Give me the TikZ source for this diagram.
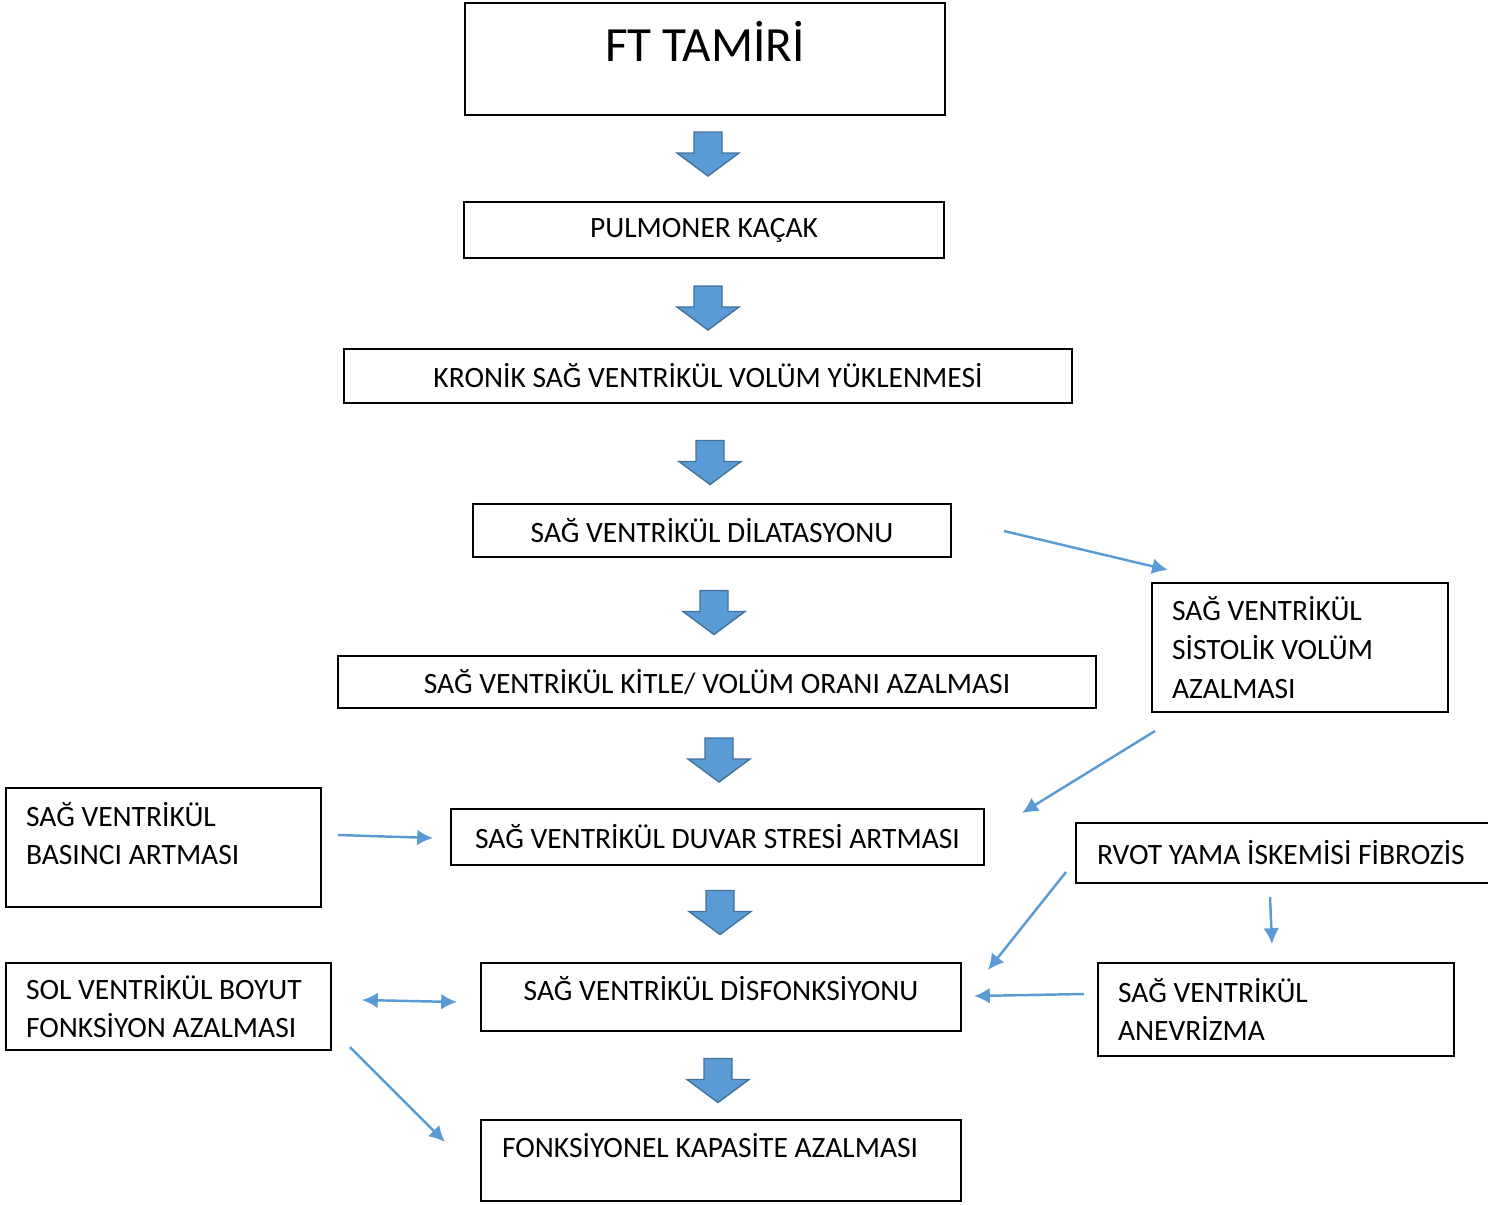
\documentclass[tikz,border=0pt]{standalone}
\usepackage{fontspec}
\setmainfont{Carlito}
\usetikzlibrary{arrows.meta}
\definecolor{arrowblue}{HTML}{5B9BD5}
\definecolor{arrowedge}{HTML}{41719C}
\tikzset{
  box/.style={draw=black, line width=1pt, inner sep=0pt, font=\fontsize{16.8pt}{22pt}\selectfont},
  leftbox/.style={box, align=flush left, inner xsep=0.4cm},
  link/.style={draw=arrowblue, line width=1.4pt, -{Latex[length=9pt,width=9pt]}},
  downarrow/.pic={\draw[fill=arrowblue, draw=arrowedge, line width=0.8pt]
    (-14,-22) -- (14,-22) -- (14,-1) -- (31,-1) -- (0,22) -- (-31,-1) -- (-14,-1) -- cycle;}
}
\begin{document}
\begin{tikzpicture}[x=0.02cm, y=-0.02cm]
  \useasboundingbox (0,0) rectangle (1488,1204);

  % main chain
  \node[box, minimum width=9.6cm, minimum height=2.24cm, text depth=0.7cm,
        font=\fontsize{28pt}{32pt}\selectfont] (ft) at (705,59) {FT TAMİRİ};
  \node[box, minimum width=9.6cm, minimum height=1.12cm] (pulm) at (704,230) {PULMONER KAÇAK};
  \node[box, minimum width=14.56cm, minimum height=1.08cm] (kron) at (708,376) {KRONİK SAĞ VENTRİKÜL VOLÜM YÜKLENMESİ};
  \node[box, minimum width=9.56cm, minimum height=1.06cm] (dil) at (712,530.5) {SAĞ VENTRİKÜL DİLATASYONU};
  \node[box, minimum width=15.16cm, minimum height=1.04cm] (kitle) at (717,682) {SAĞ VENTRİKÜL KİTLE/ VOLÜM ORANI AZALMASI};
  \node[box, minimum width=10.66cm, minimum height=1.12cm] (duvar) at (717.5,837) {SAĞ VENTRİKÜL DUVAR STRESİ ARTMASI};
  \node[box, minimum width=9.6cm, minimum height=1.36cm, text depth=0.35cm] (disf) at (721,997) {SAĞ VENTRİKÜL DİSFONKSİYONU};
  \node[leftbox, text width=8.76cm, inner xsep=0.42cm, minimum height=1.62cm, text depth=0.6cm] (fonk) at (721,1160.5) {FONKSİYONEL KAPASİTE AZALMASI};

  % side boxes
  \node[leftbox, text width=5.12cm, minimum height=2.58cm] (sist) at (1300,647.5) {SAĞ VENTRİKÜL\\SİSTOLİK VOLÜM\\AZALMASI};
  \node[leftbox, text width=7.64cm, inner xsep=0.42cm, minimum height=1.2cm] (rvot) at (1288,853) {RVOT YAMA İSKEMİSİ FİBROZİS};
  \node[leftbox, text width=6.32cm, minimum height=1.86cm] (anev) at (1276,1009.5) {SAĞ VENTRİKÜL\\ANEVRİZMA};
  \node[leftbox, text width=5.5cm, minimum height=2.38cm, text depth=1.34cm] (basinc) at (163.5,847.5) {SAĞ VENTRİKÜL\\BASINCI ARTMASI};
  \node[leftbox, text width=5.7cm, minimum height=1.74cm] (sol) at (168.5,1006.5) {SOL VENTRİKÜL BOYUT\\FONKSİYON AZALMASI};

  % block arrows
  \pic at (708,154) {downarrow};
  \pic at (708,308) {downarrow};
  \pic at (710,462.5) {downarrow};
  \pic at (714,612.5) {downarrow};
  \pic at (719,760) {downarrow};
  \pic at (720,912.5) {downarrow};
  \pic at (718,1080.5) {downarrow};

  % thin connectors
  \coordinate (dilout) at (1004,531);
  \coordinate (sistin) at (1168,570);
  \coordinate (sistout) at (1155,731);
  \coordinate (duvarin) at (1022,813);
  \coordinate (basincout) at (338,835);
  \coordinate (duvarleft) at (433,838);
  \coordinate (rvotout) at (1066,872);
  \coordinate (disfright) at (988,970);
  \coordinate (rvotdown) at (1270,897);
  \coordinate (anevin) at (1272,944);
  \coordinate (anevout) at (1084,994);
  \coordinate (disfin) at (974,996);
  \coordinate (solright) at (362,1000);
  \coordinate (disfleft) at (457,1002);
  \coordinate (solout) at (350,1047);
  \coordinate (fonkin) at (445,1142);

  \draw[link] (dilout) -- (sistin);
  \draw[link] (sistout) -- (duvarin);
  \draw[link] (basincout) -- (duvarleft);
  \draw[link] (rvotout) -- (disfright);
  \draw[link] (rvotdown) -- (anevin);
  \draw[link] (anevout) -- (disfin);
  \draw[link, {Latex[length=9pt,width=9pt]}-{Latex[length=9pt,width=9pt]}] (solright) -- (disfleft);
  \draw[link] (solout) -- (fonkin);
\end{tikzpicture}
\end{document}
